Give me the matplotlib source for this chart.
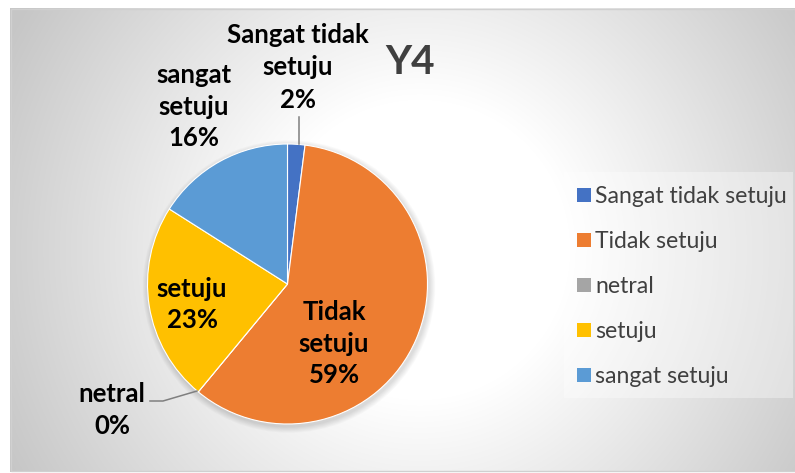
import numpy as np
import matplotlib
matplotlib.use("Agg")
import matplotlib.pyplot as plt
from matplotlib.patches import Rectangle, Circle
from matplotlib.textpath import TextPath
from matplotlib.font_manager import FontProperties

plt.rcParams['font.family'] = ['Lato', 'DejaVu Sans']

# ---------------- data ----------------
title = "Y4"
categories = ["Sangat tidak setuju", "Tidak setuju", "netral", "setuju", "sangat setuju"]
values = [2, 59, 0, 23, 16]
label_names = [["Sangat tidak", "setuju"], ["Tidak", "setuju"], ["netral"], ["setuju"], ["sangat", "setuju"]]
colors = ["#4472C4", "#ED7D31", "#A5A5A5", "#FFC000", "#5B9BD5"]

W, H = 795, 473


def Y(p):
    return H - p


def fit(text, target_px, weight):
    tp = TextPath((0, 0), text, size=10, prop=FontProperties(family='Lato', weight=weight))
    w = tp.get_extents().width
    return target_px * 10.0 / w * 72.0 / 100.0


fig = plt.figure(figsize=(W / 100, H / 100), dpi=100)
fig.patch.set_facecolor('white')
ax = fig.add_axes([0, 0, 1, 1])

# background radial gradient
xx, yy = np.meshgrid(np.arange(10, 795) + 0.5, np.arange(8, 472) + 0.5)
d = np.hypot(xx - 420, yy - 250)
frac = np.clip((d - 150) / 310.0, 0, 1)
g = 1 - frac * (1 - 0.78)
img = np.dstack([g, g, g])
ax.imshow(img, extent=(10, 795, Y(472), Y(8)), origin='upper', zorder=0,
          interpolation='bilinear', aspect='auto')
ax.add_patch(Rectangle((10.5, Y(471.5)), 784, 463, fill=False, edgecolor='#d0d0d0', lw=1, zorder=1))

# pie shadow
cx, cy, r = 287.5, Y(284), 140
for k in range(1, 8):
    ax.add_patch(Circle((cx + 1.5, cy - 2.5), r + k * 0.9, color='k', alpha=0.018, lw=0, zorder=2))

wedges, _ = ax.pie(values, colors=colors, startangle=90, counterclock=False,
                   center=(cx, cy), radius=r,
                   wedgeprops=dict(edgecolor='white', linewidth=0.8, zorder=3))

# data labels
lab_fs = fit("Sangat tidak", 141, 'bold')
label_pos = [(298, [43, 75, 108]), (334, [320, 352, 383]), (112, [402, 434]),
             (192, [297, 328]), (194, [83, 115, 146])]
for names, v, (x, bls) in zip(label_names, values, label_pos):
    lines = names + [f"{v}%"]
    for line, b in zip(lines, bls):
        ax.text(x, Y(b), line, ha='center', va='baseline', fontsize=lab_fs,
                fontweight='bold', color='black', zorder=5)

# leader lines
ax.plot([299, 299], [Y(117), Y(144)], color='#7f7f7f', lw=1.1, zorder=4)
ax.plot([150, 163, 197], [Y(401), Y(401), Y(391)], color='#7f7f7f', lw=1.1, zorder=4)

# title
title_fs = fit(title, 49, 'bold')
ax.text(410, Y(74), title, ha='center', va='baseline', fontsize=title_fs,
        fontweight='bold', color='#404040', zorder=5)

# legend
leg_fs = fit("Sangat tidak setuju", 189, 'normal')
ax.add_patch(Rectangle((564, Y(398)), 229, 226, facecolor='white', alpha=0.35, lw=0, zorder=2))
for i, (name, col) in enumerate(zip(categories, colors)):
    yc = 195 + 45 * i
    ax.add_patch(Rectangle((577, Y(yc + 7)), 14, 14, facecolor=col, lw=0, zorder=5))
    ax.text(595, Y(yc + 8), name, ha='left', va='baseline', fontsize=leg_fs,
            color='#404040', zorder=5)

ax.set_xlim(0, W)
ax.set_ylim(0, H)
ax.set_aspect('equal')
ax.axis('off')

fig.savefig('out.png', dpi=100, facecolor='white')
